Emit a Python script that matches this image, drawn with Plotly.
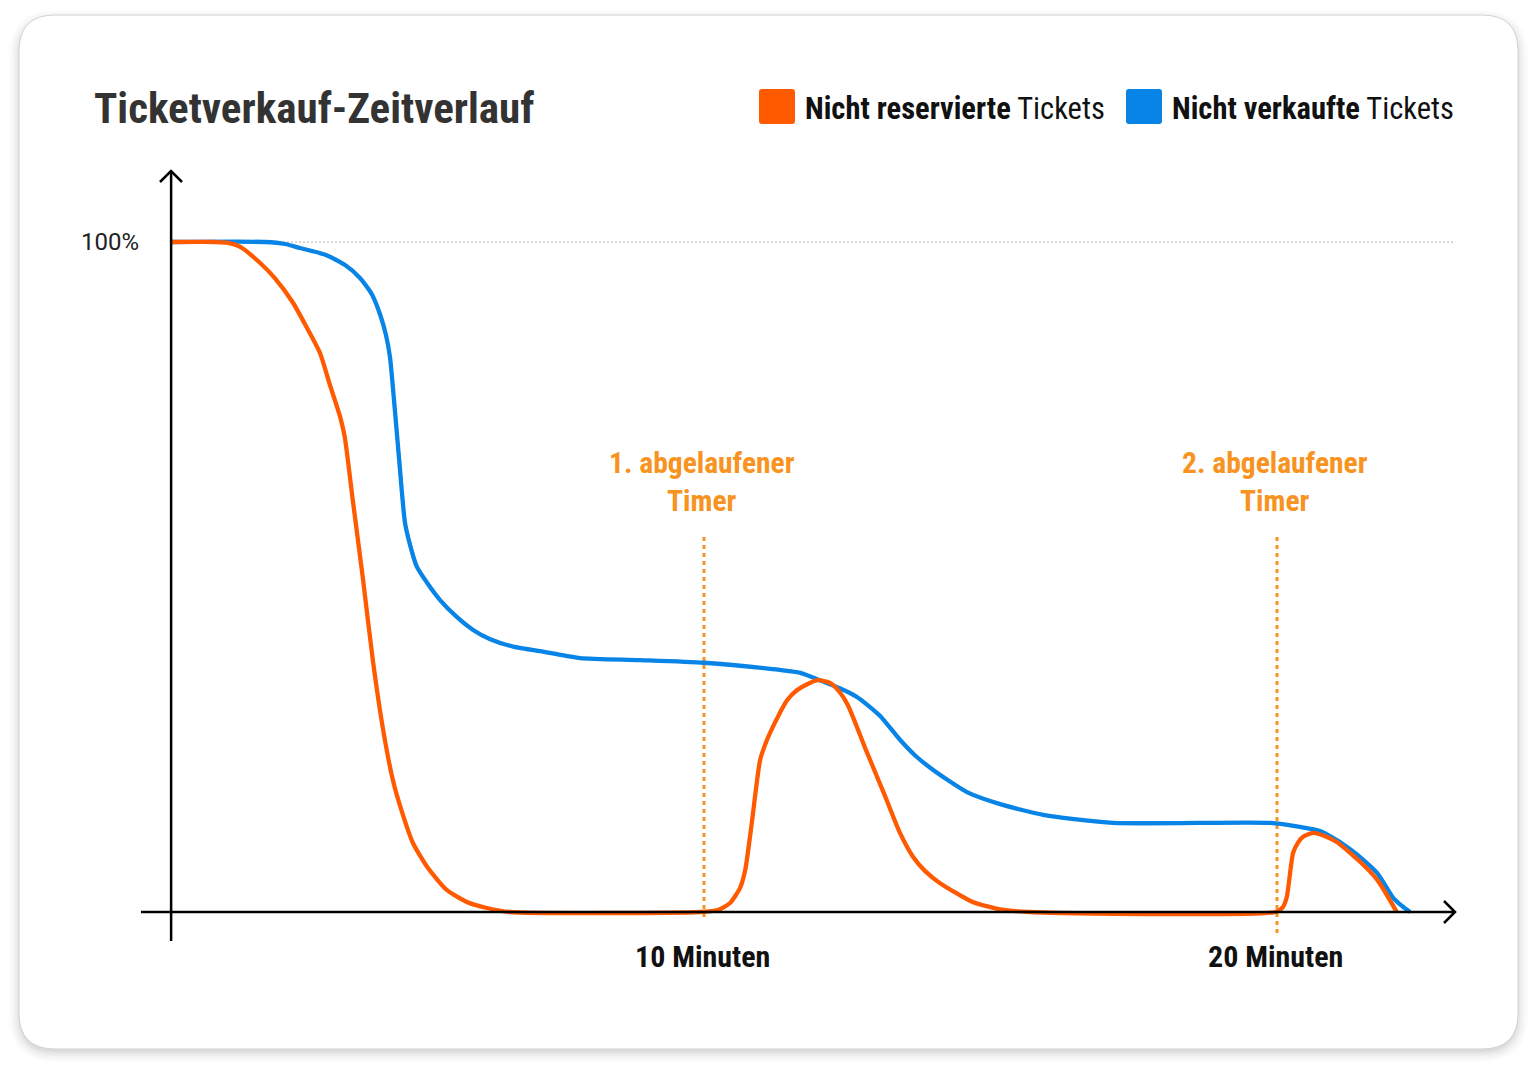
import plotly.graph_objects as go

# ---------------- data (minutes, % of tickets) ----------------
blue_x = [0.70, 2.34, 2.69, 2.95, 3.39, 3.73, 4.00, 4.21, 4.35, 4.45, 4.52, 4.59, 4.68, 4.78,
          4.87, 4.99, 5.17, 5.39, 5.69, 5.97, 6.27, 6.67, 7.23, 7.84, 8.88, 10.00, 11.15,
          11.68, 12.02, 12.37, 12.67, 13.07, 13.42, 13.68, 14.00, 14.59, 15.17, 15.92,
          17.14, 19.88, 20.40, 20.75, 21.05, 21.27, 21.45, 21.75, 22.02, 22.18, 22.32]
blue_y = [100, 100, 99.7, 99.1, 98.1, 96.6, 94.6, 92.1, 89.1, 86.1, 82.8, 76.4, 67.5, 58.2,
          54.8, 51.5, 49.1, 46.6, 44.0, 42.1, 40.7, 39.6, 38.8, 37.9, 37.6, 37.2, 36.3,
          35.7, 34.6, 33.4, 32.1, 29.3, 25.7, 23.4, 21.2, 17.9, 16.1, 14.5,
          13.3, 13.3, 12.7, 12.1, 10.7, 9.4, 8.2, 5.8, 2.2, 0.9, 0]

orange_x = [0.70, 1.47, 1.68, 1.90, 2.25, 2.51, 2.83, 3.07, 3.30, 3.47, 3.65, 3.73, 3.87,
            4.05, 4.22, 4.40, 4.57, 4.73, 4.92, 5.18, 5.51, 5.86, 6.21, 6.61, 9.93, 10.24,
            10.45, 10.63, 10.72, 10.84, 10.98, 11.10, 11.20, 11.45, 11.62, 11.80, 11.99,
            12.20, 12.37, 12.51, 12.84, 13.16, 13.42, 13.65, 13.86, 14.12, 14.69, 15.17,
            15.69, 19.98, 20.10, 20.17, 20.28, 20.37, 20.45, 20.63, 20.84, 21.05, 21.45,
            21.75, 22.09]
orange_y = [100, 100, 99.9, 99.3, 96.9, 94.6, 90.9, 87.2, 83.4, 78.7, 73.9, 70.9, 61.5,
            49.6, 37.6, 27.2, 19.7, 14.9, 10.3, 6.6, 3.3, 1.5, 0.6, 0, 0, 0.3,
            1.3, 3.6, 6.3, 13.7, 22.7, 25.7, 27.6, 31.6, 33.1, 34.0, 34.6,
            34.2, 32.8, 30.9, 23.9, 17.3, 11.8, 8.2, 6.1, 4.3, 1.5, 0.4,
            0, 0, 0.7, 2.2, 8.8, 10.4, 11.2, 11.8, 11.3, 10.4, 7.5,
            4.8, 0]

timer_x = [10, 20]
timer_labels = ["1. abgelaufener<br>Timer", "2. abgelaufener<br>Timer"]
tick_x = [10, 20]
tick_labels = ["10 Minuten", "20 Minuten"]
y_label_value = 100
y_label_text = "100%"
x_origin = 0.70

series_names = ["Nicht reservierte", "Nicht verkaufte"]

# ---------------- styling / geometry ----------------
W, H = 1538, 1073
ORANGE = "#FF5A00"
BLUE = "#0784E5"
TIMER = "#F7931E"
COND = "Liberation Sans Narrow, Roboto Condensed, Arial Narrow, sans-serif"
REG = "Roboto, Liberation Sans, sans-serif"

PX_PER_MIN = 57.3
PX_PER_PCT = 6.7
X_LEFT = 10 - 704 / PX_PER_MIN
Y_BOTTOM = -(H - 912) / PX_PER_PCT


def fx(p):
    return p / W


def fy(p):
    return 1 - p / H


def rrect(x0, y0, x1, y1, r):
    return (f"M {fx(x0 + r)},{fy(y0)} L {fx(x1 - r)},{fy(y0)} "
            f"Q {fx(x1)},{fy(y0)} {fx(x1)},{fy(y0 + r)} L {fx(x1)},{fy(y1 - r)} "
            f"Q {fx(x1)},{fy(y1)} {fx(x1 - r)},{fy(y1)} L {fx(x0 + r)},{fy(y1)} "
            f"Q {fx(x0)},{fy(y1)} {fx(x0)},{fy(y1 - r)} L {fx(x0)},{fy(y0 + r)} "
            f"Q {fx(x0)},{fy(y0)} {fx(x0 + r)},{fy(y0)} Z")


fig = go.Figure()

fig.add_trace(go.Scatter(x=blue_x, y=blue_y, mode="lines",
                         line=dict(color=BLUE, width=4.3, shape="spline", smoothing=0.6),
                         hoverinfo="skip", showlegend=False))
fig.add_trace(go.Scatter(x=orange_x, y=orange_y, mode="lines",
                         line=dict(color=ORANGE, width=4.3, shape="spline", smoothing=0.6),
                         hoverinfo="skip", showlegend=False))

shapes = []
# card shadow
for i, op in enumerate([0.035, 0.03, 0.025, 0.02, 0.015, 0.01]):
    g = i * 2
    shapes.append(dict(type="path", xref="paper", yref="paper", layer="below",
                       path=rrect(19 - g, 17 - g + 3, 1518 + g, 1049 + g + 3, 36 + g),
                       fillcolor=f"rgba(0,0,0,{op})", line=dict(width=0)))
# card
shapes.append(dict(type="path", xref="paper", yref="paper", layer="below",
                   path=rrect(19, 15, 1518, 1049, 36),
                   fillcolor="white", line=dict(color="#d2d2d2", width=1)))
# 100% dotted guide
shapes.append(dict(type="line", xref="x", yref="y", layer="below",
                   x0=x_origin, x1=X_LEFT + 1455 / PX_PER_MIN, y0=y_label_value, y1=y_label_value,
                   line=dict(color="#c9c9c9", width=1.5, dash="2px,2px")))
# timer dotted lines
for tx, bottom in zip(timer_x, [918, 933]):
    shapes.append(dict(type="line", xref="x", yref="paper", layer="below",
                       x0=tx, x1=tx, y0=fy(537), y1=fy(bottom),
                       line=dict(color=TIMER, width=3, dash="4px,4px")))
# axes
shapes.append(dict(type="line", xref="paper", yref="y", layer="above",
                   x0=fx(141), x1=fx(1455), y0=0, y1=0, line=dict(color="black", width=2.5)))
shapes.append(dict(type="line", xref="x", yref="paper", layer="above",
                   x0=x_origin, x1=x_origin, y0=fy(941), y1=fy(171), line=dict(color="black", width=2.5)))
# arrow heads
shapes.append(dict(type="path", xref="paper", yref="paper", layer="above",
                   path=f"M {fx(160)},{fy(182)} L {fx(171)},{fy(171)} L {fx(182)},{fy(182)}",
                   line=dict(color="black", width=2.5)))
shapes.append(dict(type="path", xref="paper", yref="paper", layer="above",
                   path=f"M {fx(1444)},{fy(901)} L {fx(1455)},{fy(912)} L {fx(1444)},{fy(923)}",
                   line=dict(color="black", width=2.5)))
# legend swatches
for x0, c in [(759, ORANGE), (1126, BLUE)]:
    shapes.append(dict(type="path", xref="paper", yref="paper", layer="above",
                       path=rrect(x0, 89, x0 + 36, 124, 3), fillcolor=c, line=dict(width=0)))

annotations = []
annotations.append(dict(text="<b>Ticketverkauf-Zeitverlauf</b>", xref="paper", yref="paper",
                        x=fx(92), y=fy(108), xanchor="left", yanchor="middle", showarrow=False,
                        font=dict(family=COND, size=43, color="#333333")))
for x0, name in zip([803, 1170], series_names):
    annotations.append(dict(text=f"<b>{name}</b> Tickets", xref="paper", yref="paper",
                            x=fx(x0), y=fy(109), xanchor="left", yanchor="middle", showarrow=False,
                            font=dict(family=COND, size=30.5, color="#111111")))
annotations.append(dict(text=y_label_text, xref="paper", yref="y", x=fx(141), y=y_label_value,
                        xanchor="right", yanchor="middle", showarrow=False,
                        font=dict(family=REG, size=24, color="#222222")))
for tx, lab in zip(timer_x, timer_labels):
    annotations.append(dict(text=f"<b>{lab}</b>", xref="x", yref="paper", x=tx - 0.03, y=fy(482),
                            xanchor="center", yanchor="middle", showarrow=False, align="center",
                            font=dict(family=COND, size=29.5, color=TIMER)))
for tx, lab in zip(tick_x, tick_labels):
    annotations.append(dict(text=f"<b>{lab}</b>", xref="x", yref="paper", x=tx - 0.02, y=fy(956),
                            xanchor="center", yanchor="middle", showarrow=False,
                            font=dict(family=COND, size=30, color="#111111")))

fig.update_layout(
    width=W, height=H, autosize=False,
    margin=dict(l=0, r=0, t=0, b=0, pad=0),
    paper_bgcolor="white", plot_bgcolor="rgba(0,0,0,0)",
    xaxis=dict(range=[X_LEFT, X_LEFT + W / PX_PER_MIN], visible=False, fixedrange=True),
    yaxis=dict(range=[Y_BOTTOM, Y_BOTTOM + H / PX_PER_PCT], visible=False, fixedrange=True),
    shapes=shapes, annotations=annotations, showlegend=False,
)

fig.write_html("out.html")
